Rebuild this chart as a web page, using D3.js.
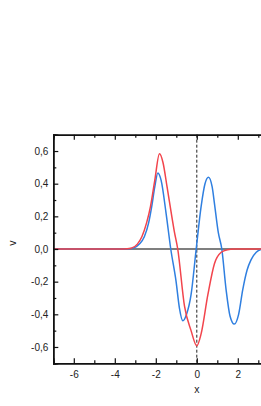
<!DOCTYPE html>
<html><head><meta charset="utf-8">
<script src="https://cdn.jsdelivr.net/npm/d3@7"></script>
<style>body{margin:0;background:#fff}svg{display:block}</style>
</head><body>
<script>
// x and v values
const redX = [-7,-3.6,-3.2,-2.9,-2.68,-2.45,-2.26,-2.05,-1.82,-1.65,-1.45,-1.22,-1.1,-0.93,-0.6,-0.28,0,0.21,0.54,0.86,1.19,1.5,1.8,3.4];
const redV = [0,0,0.005,0.03,0.075,0.16,0.26,0.42,0.583,0.53,0.38,0.2,0.11,0,-0.35,-0.50,-0.593,-0.52,-0.28,-0.09,-0.02,-0.004,0,0];
const blueX = [-7,-3.5,-3.1,-2.8,-2.56,-2.35,-2.2,-2.05,-1.9,-1.74,-1.5,-1.27,-1.01,-0.85,-0.68,-0.5,-0.28,-0.03,0.21,0.4,0.57,0.75,0.86,1.05,1.22,1.43,1.62,1.83,2.04,2.24,2.45,2.65,2.9,3.15,3.4];
const blueV = [0,0,0.005,0.03,0.075,0.16,0.26,0.38,0.465,0.42,0.22,0,-0.2,-0.36,-0.44,-0.40,-0.28,0,0.26,0.40,0.44,0.38,0.28,0.10,0,-0.25,-0.41,-0.46,-0.40,-0.25,-0.13,-0.065,-0.02,-0.003,0];
const xMajor = [-6,-4,-2,0,2];
const xMinor = [-7,-5,-3,-1,1,3];
const yMajor = [-0.6,-0.4,-0.2,0,0.2,0.4,0.6];
const yMinor = [-0.7,-0.5,-0.3,-0.1,0.1,0.3,0.5,0.7];
const fmt = v => d3.format(".1f")(v).replace(".", ",").replace("−","-");

const W = 261, H = 406;
const L = 53.3, T = 134.7, B = 363.3;
const xs = d3.scaleLinear().domain([-7, 7]).range([L, L + 14 * 20.5]);
const ys = d3.scaleLinear().domain([-0.7, 0.7]).range([B, T]);

const svg = d3.select("body").append("svg").attr("width", W).attr("height", H);
const font = "'Liberation Sans', Arial, sans-serif";

const plot = svg.append("g");
plot.append("line").attr("x1", xs(-7)).attr("x2", xs(7)).attr("y1", ys(0)).attr("y2", ys(0))
  .attr("stroke", "#555").attr("stroke-width", 1.4);
plot.append("line").attr("x1", xs(0)).attr("x2", xs(0)).attr("y1", ys(0.7)).attr("y2", ys(-0.7))
  .attr("stroke", "#222").attr("stroke-width", 1).attr("stroke-dasharray", "3,2");

const line = d3.line().x(d => xs(d[0])).y(d => ys(d[1])).curve(d3.curveMonotoneX);
plot.append("path").datum(blueX.map((v, i) => [v, blueV[i]])).attr("d", line)
  .attr("fill", "none").attr("stroke", "#2f7fe0").attr("stroke-width", 1.5);
plot.append("path").datum(redX.map((v, i) => [v, redV[i]])).attr("d", line)
  .attr("fill", "none").attr("stroke", "#f2444c").attr("stroke-width", 1.5);

const axBottom = d3.axisBottom(xs).tickValues(xMajor).tickSize(-5).tickPadding(8).tickFormat(d => d3.format("d")(d).replace("−","-"));
const axBottomMinor = d3.axisBottom(xs).tickValues(xMinor).tickSize(-3).tickFormat("");
const axTop = d3.axisTop(xs).tickValues(xMajor).tickSize(-5).tickFormat("");
const axTopMinor = d3.axisTop(xs).tickValues(xMinor).tickSize(-3).tickFormat("");
const axLeft = d3.axisLeft(ys).tickValues(yMajor).tickSize(-5).tickPadding(5).tickFormat(fmt);
const axLeftMinor = d3.axisLeft(ys).tickValues(yMinor).tickSize(-3).tickFormat("");

function style(g) {
  g.select(".domain").attr("stroke", "#111").attr("stroke-width", 1.5);
  g.selectAll(".tick line").attr("stroke", "#111").attr("stroke-width", 1.2);
  g.selectAll("text").attr("font-family", font).attr("font-size", 10).attr("fill", "#222");
}
svg.append("g").attr("transform", `translate(0,${B})`).call(axBottomMinor).call(style);
svg.append("g").attr("transform", `translate(0,${B})`).call(axBottom).call(style);
svg.append("g").attr("transform", `translate(0,${T})`).call(axTopMinor).call(style);
svg.append("g").attr("transform", `translate(0,${T})`).call(axTop).call(style);
svg.append("g").attr("transform", `translate(${L},0)`).call(axLeftMinor).call(style);
svg.append("g").attr("transform", `translate(${L},0)`).call(axLeft).call(style);

svg.append("text").attr("x", xs(0)).attr("y", 393).attr("text-anchor", "middle")
  .attr("font-family", font).attr("font-size", 10.5).attr("fill", "#222").text("x");
svg.append("text").attr("transform", `translate(16,${ys(0) - 6}) rotate(-90)`).attr("text-anchor", "middle")
  .attr("font-family", font).attr("font-size", 10.5).attr("fill", "#222").text("v");
</script>
</body></html>
